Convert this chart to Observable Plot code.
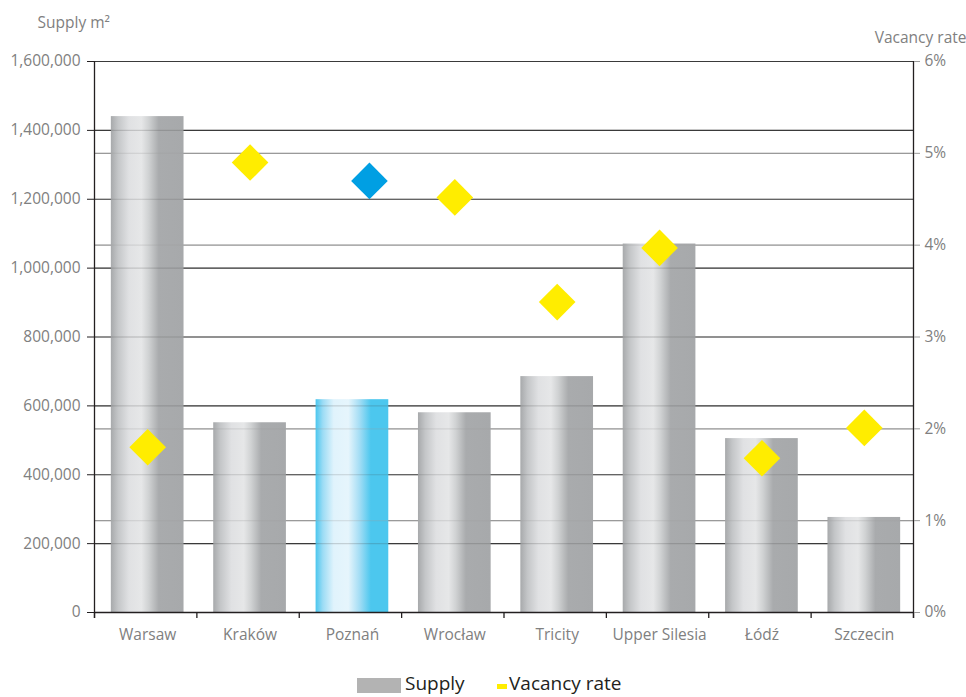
<!DOCTYPE html>
<html>
<head>
<meta charset="utf-8">
<script src="https://cdn.jsdelivr.net/npm/d3@7"></script>
<script src="https://cdn.jsdelivr.net/npm/@observablehq/plot@0.6"></script>
<style>
  html, body { margin: 0; padding: 0; background: #fff; }
  body { width: 966px; height: 697px; overflow: hidden; font-family: "Open Sans", sans-serif; }
  #legend { position: absolute; top: 674px; left: 0; width: 966px; height: 23px; font-size: 19px; color: #231f20; }
  #legend span { position: absolute; }
</style>
</head>
<body>
<div id="chart"></div>
<div id="legend">
  <span style="left:357px; top:4px; width:44px; height:15px; background:#b3b3b3;"></span>
  <span style="left:405px; top:-4px;">Supply</span>
  <span style="left:497px; top:10px; width:10px; height:5px; background:#ffed00;"></span>
  <span style="left:509px; top:-4px;">Vacancy rate</span>
</div>
<script>
const cities = ["Warsaw", "Kraków", "Poznań", "Wrocław", "Tricity", "Upper Silesia", "Łódź", "Szczecin"];
const supply = [1440000, 551000, 618000, 580000, 685000, 1070000, 505000, 276000];
const vacancy = [1.8, 4.9, 4.7, 4.52, 3.38, 3.97, 1.68, 2.01];
const highlight = "Poznań";
const supplyTicks = [0, 200000, 400000, 600000, 800000, 1000000, 1200000, 1400000, 1600000];
const vacancyTicks = [0, 1, 2, 3, 4, 5, 6];

const yMax = 1600000;
const vMax = 6;
const k = yMax / vMax;
const half = 0.355;

const data = cities.map((c, i) => ({city: c, i, supply: supply[i], vacancy: vacancy[i], hl: c === highlight}));

function defs() {
  const ns = "http://www.w3.org/2000/svg";
  const d = document.createElementNS(ns, "defs");
  const mk = (id, stops) => {
    const g = document.createElementNS(ns, "linearGradient");
    g.setAttribute("id", id);
    g.setAttribute("x1", "0"); g.setAttribute("x2", "1");
    g.setAttribute("y1", "0"); g.setAttribute("y2", "0");
    for (const [o, c] of stops) {
      const s = document.createElementNS(ns, "stop");
      s.setAttribute("offset", o);
      s.setAttribute("stop-color", c);
      g.appendChild(s);
    }
    d.appendChild(g);
  };
  mk("gGray", [["0", "#a7a9ab"], ["0.1", "#c4c6c8"], ["0.25", "#e0e1e3"], ["0.42", "#e6e7e8"], ["0.52", "#d0d2d3"], ["0.66", "#a9abad"], ["1", "#a7a9ab"]]);
  mk("gBlue", [["0", "#4ac6ee"], ["0.1", "#9cdcf5"], ["0.25", "#e0f3fc"], ["0.45", "#e6f5fc"], ["0.6", "#a6def5"], ["0.76", "#4cc7ee"], ["1", "#4cc7ee"]]);
  return d;
}

const tickColor = "#808080";
const chart = Plot.plot({
  width: 966,
  height: 660,
  marginTop: 61,
  marginBottom: 48,
  marginLeft: 94,
  marginRight: 53,
  style: {fontFamily: "Open Sans, sans-serif", fontSize: "15px", color: tickColor, background: "#fff"},
  x: {domain: [-0.5, cities.length - 0.5], axis: null},
  y: {domain: [0, yMax], axis: null},
  marks: [
    defs,
    Plot.ruleY(supplyTicks.slice(1), {stroke: "#3a3a3a", strokeWidth: 1.2}),
    Plot.ruleY(vacancyTicks.slice(1, -1).map(v => v * k), {stroke: "#9a9a9a", strokeWidth: 1.2}),
    Plot.rectY(data.filter(d => !d.hl), {x1: d => d.i - half, x2: d => d.i + half, y1: 0, y2: "supply", fill: "url(#gGray)", dx: 2}),
    Plot.rectY(data.filter(d => d.hl), {x1: d => d.i - half, x2: d => d.i + half, y1: 0, y2: "supply", fill: "url(#gBlue)", dx: 2}),
    Plot.ruleY(supplyTicks.slice(1), {stroke: "#3a3a3a", strokeWidth: 1.2, strokeOpacity: 0.2}),
    Plot.ruleY(vacancyTicks.slice(1, -1).map(v => v * k), {stroke: "#9a9a9a", strokeWidth: 1.2, strokeOpacity: 0.25}),
    Plot.ruleY([0], {stroke: "#231f20", strokeWidth: 1.3}),
    Plot.ruleX([-0.5, cities.length - 0.5], {stroke: "#231f20", strokeWidth: 1.3, insetBottom: -6}),
    Plot.axisX(d3.range(-0.5, cities.length, 1), {tickSize: 6, text: null, stroke: "#231f20", strokeWidth: 1.3, label: null}),
    Plot.axisX(d3.range(cities.length), {tickSize: 0, tickPadding: 16, tickFormat: i => cities[i], fill: tickColor, fontSize: 15.5, label: null, dx: 2}),
    Plot.axisY(supplyTicks, {anchor: "left", tickSize: 7, tickPadding: 7, tickFormat: d3.format(","), stroke: "#231f20", fill: tickColor, fontSize: 15.5, label: null}),
    Plot.axisY(vacancyTicks.map(v => v * k), {anchor: "right", tickSize: 6, tickPadding: 5, tickFormat: v => Math.round(v / k) + "%", stroke: "#9a9a9a", fill: tickColor, fontSize: 15.5, label: null}),
    Plot.dot(data.filter(d => !d.hl), {x: "i", y: d => d.vacancy * k, symbol: "diamond2", r: 16.5, fill: "#ffed00", stroke: "none", dx: 2}),
    Plot.dot(data.filter(d => d.hl), {x: "i", y: d => d.vacancy * k, symbol: "diamond2", r: 16.5, fill: "#009fe3", stroke: "none", dx: 19}),
    Plot.text(["Supply m²"], {frameAnchor: "top-left", dx: -57, dy: -45, textAnchor: "start", fill: tickColor, fontSize: 15.5}),
    Plot.text(["Vacancy rate"], {frameAnchor: "top-right", dx: 53, dy: -30, textAnchor: "end", fill: tickColor, fontSize: 15.5})
  ]
});
document.getElementById("chart").appendChild(chart);
</script>
</body>
</html>
